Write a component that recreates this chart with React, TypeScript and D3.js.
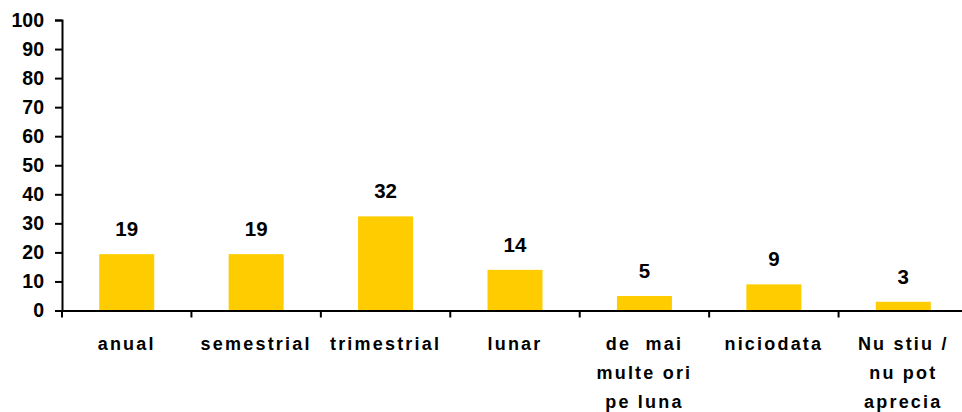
import React, { useEffect, useRef } from "react";
import * as d3 from "d3";

const categories = [
  ["anual"],
  ["semestrial"],
  ["trimestrial"],
  ["lunar"],
  ["de  mai", "multe ori", "pe luna"],
  ["niciodata"],
  ["Nu stiu /", "nu pot", "aprecia"],
];
const values = [19.4, 19.4, 32.4, 14, 5, 9, 3];
const yTicks = [0, 10, 20, 30, 40, 50, 60, 70, 80, 90, 100];

const width = 962;
const height = 412;
const margin = { top: 20, right: -6, bottom: 101.5, left: 62 };

export default function App() {
  const ref = useRef<SVGSVGElement>(null);

  useEffect(() => {
    const svg = d3.select(ref.current);
    svg.selectAll("*").remove();

    const x = d3
      .scaleBand<number>()
      .domain(values.map((_, i) => i))
      .range([margin.left, width - margin.right])
      .padding(0);
    const y = d3
      .scaleLinear()
      .domain([0, 100])
      .range([height - margin.bottom, margin.top]);

    const barW = x.bandwidth() * 0.425;
    const font = "'Liberation Sans', Arial, sans-serif";

    // bars
    svg
      .selectAll(".bar")
      .data(values)
      .enter()
      .append("rect")
      .attr("class", "bar")
      .attr("x", (d, i) => x(i)! + x.bandwidth() / 2 - barW / 2)
      .attr("y", (d) => y(d))
      .attr("width", barW)
      .attr("height", (d) => y(0) - y(d))
      .attr("fill", "#FFCC00");

    // value labels
    svg
      .selectAll(".val")
      .data(values)
      .enter()
      .append("text")
      .attr("x", (d, i) => x(i)! + x.bandwidth() / 2)
      .attr("y", (d) => y(d) - 18)
      .attr("text-anchor", "middle")
      .attr("font-family", font)
      .attr("font-weight", "bold")
      .attr("font-size", 20.5)
      .text((d) => Math.round(d));

    // y axis
    const yAxis = svg
      .append("g")
      .attr("transform", `translate(${margin.left},0)`)
      .call(d3.axisLeft(y).tickValues(yTicks).tickSize(7).tickPadding(11));
    yAxis.select(".domain").attr("stroke", "#000").attr("stroke-width", 2);
    yAxis.selectAll(".tick line").attr("stroke", "#000").attr("stroke-width", 2);
    yAxis
      .selectAll("text")
      .attr("font-family", font)
      .attr("font-weight", "bold")
      .attr("font-size", 19.5)
      .attr("fill", "#000");

    // x axis
    const xAxis = svg
      .append("g")
      .attr("transform", `translate(0,${y(0)})`)
      .call(d3.axisBottom(x).tickSize(0).tickFormat(() => ""));
    xAxis.select(".domain").attr("stroke", "#000").attr("stroke-width", 2);
    xAxis.selectAll(".tick").remove();

    // category separators
    svg
      .selectAll(".sep")
      .data(values)
      .enter()
      .append("line")
      .attr("x1", (d, i) => x(i)!)
      .attr("x2", (d, i) => x(i)!)
      .attr("y1", y(0))
      .attr("y2", y(0) + 7)
      .attr("stroke", "#000")
      .attr("stroke-width", 2);

    // category labels
    const cat = svg
      .selectAll(".cat")
      .data(categories)
      .enter()
      .append("text")
      .attr("text-anchor", "middle")
      .attr("font-family", font)
      .attr("font-weight", "bold")
      .attr("font-size", 18)
      .attr("letter-spacing", 2.2);
    cat
      .selectAll("tspan")
      .data((d, i) => d.map((line) => ({ line, i })))
      .enter()
      .append("tspan")
      .attr("x", (d) => x(d.i)! + x.bandwidth() / 2)
      .attr("y", (d, j) => y(0) + 39.5 + j * 29)
      .attr("xml:space", "preserve")
      .style("white-space", "pre")
      .text((d) => d.line);
  }, []);

  return (
    <svg
      ref={ref}
      width={width}
      height={height}
      style={{ position: "absolute", left: 0, top: 0, background: "#fff" }}
    />
  );
}
